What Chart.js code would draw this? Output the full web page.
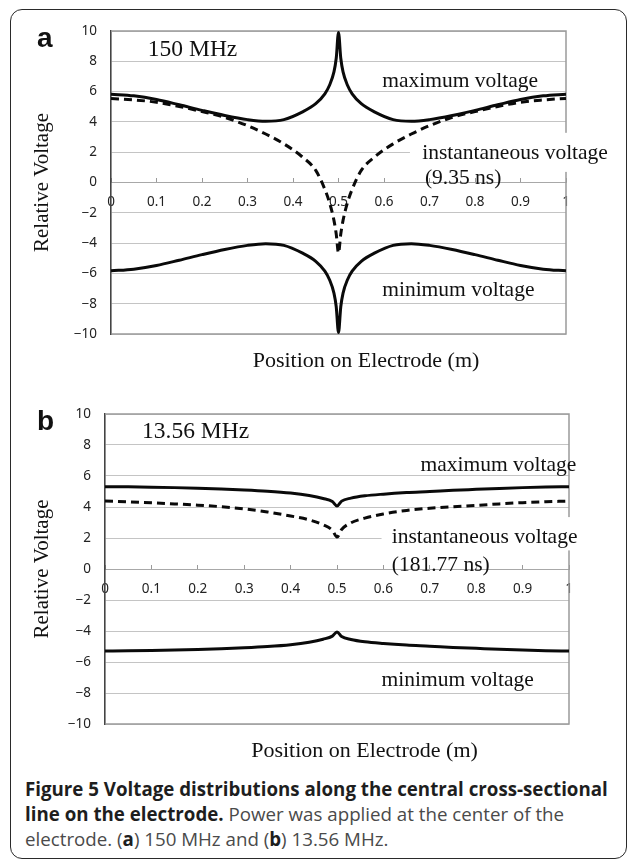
<!DOCTYPE html>
<html><head><meta charset="utf-8">
<script src="https://cdn.jsdelivr.net/npm/chart.js@4.4.1/dist/chart.umd.min.js"></script>
<style>
html,body{margin:0;padding:0;background:#fff;}
body{width:627px;height:861px;position:relative;overflow:hidden;}
#frame{position:absolute;left:10px;top:9px;width:617px;height:850px;border:1.6px solid #2a2a2a;border-radius:12px;box-sizing:border-box;}
canvas{position:absolute;left:0;}
#ca{top:0px;}
#cb{top:385px;}
#cap{position:absolute;left:25px;top:776px;font-family:'Open Sans',sans-serif;font-size:17px;line-height:25px;color:#4a4a4a;white-space:nowrap;}
#cap b{color:#1e1e1e;font-weight:700;}
</style></head><body>
<div id="frame"></div>
<canvas id="ca" width="627" height="385"></canvas>
<canvas id="cb" width="627" height="385"></canvas>
<div id="cap"><span id="l1"><b>Figure 5 Voltage distributions along the central cross-sectional</b></span><br><b>line on the electrode.</b> Power was applied at the center of the<br>electrode. (<b>a</b>) 150 MHz and (<b>b</b>) 13.56 MHz.</div>
<script>
// ---- data: 150 MHz ----
const positions150 = [0,0.05,0.1,0.15,0.2,0.25,0.3,0.34,0.38,0.42,0.45,0.47,0.48,0.49,0.495,0.5,0.505,0.51,0.52,0.53,0.55,0.58,0.62,0.66,0.7,0.75,0.8,0.85,0.9,0.95,1];
const maxVoltage150 = [5.83,5.72,5.48,5.13,4.76,4.42,4.15,4.04,4.15,4.65,5.2,5.85,6.4,7.3,8.2,9.9,8.2,7.3,6.4,5.85,5.2,4.65,4.15,4.04,4.15,4.42,4.76,5.13,5.48,5.72,5.83];
const instVoltage150 = [5.55,5.45,5.3,5.02,4.68,4.3,3.75,3.2,2.55,1.7,0.8,-0.45,-1.3,-2.5,-3.4,-4.65,-3.4,-2.5,-1.3,-0.45,0.8,1.7,2.55,3.2,3.75,4.3,4.68,5.02,5.3,5.45,5.55];
const minVoltage150 = [-5.83,-5.72,-5.48,-5.13,-4.76,-4.42,-4.15,-4.04,-4.15,-4.65,-5.2,-5.85,-6.4,-7.3,-8.2,-9.9,-8.2,-7.3,-6.4,-5.85,-5.2,-4.65,-4.15,-4.04,-4.15,-4.42,-4.76,-5.13,-5.48,-5.72,-5.83];
// ---- data: 13.56 MHz ----
const positions1356 = [0,0.05,0.1,0.15,0.2,0.25,0.3,0.35,0.4,0.44,0.47,0.49,0.5,0.51,0.53,0.56,0.6,0.65,0.7,0.75,0.8,0.85,0.9,0.95,1];
const maxVoltage1356 = [5.31,5.3,5.28,5.25,5.21,5.16,5.1,5.02,4.9,4.74,4.55,4.35,4.06,4.38,4.57,4.72,4.83,4.93,5.0,5.08,5.14,5.2,5.25,5.29,5.31];
const instVoltage1356 = [4.38,4.33,4.27,4.2,4.12,4.02,3.88,3.68,3.42,3.17,2.85,2.5,2.06,2.55,2.98,3.28,3.55,3.78,3.92,4.02,4.1,4.2,4.28,4.34,4.38];
const minVoltage1356 = [-5.29,-5.28,-5.26,-5.23,-5.19,-5.14,-5.08,-5.0,-4.88,-4.72,-4.53,-4.33,-4.06,-4.36,-4.55,-4.7,-4.81,-4.91,-4.98,-5.06,-5.12,-5.18,-5.23,-5.27,-5.29];
// ---- ticks ----
const xTickValues = [0,0.1,0.2,0.3,0.4,0.5,0.6,0.7,0.8,0.9,1];
const xTickLabels = ['0','0.1','0.2','0.3','0.4','0.5','0.6','0.7','0.8','0.9','1'];
const yTickValues = [-10,-8,-6,-4,-2,0,2,4,6,8,10];
const yTickLabels = ['\u221210','\u22128','\u22126','\u22124','\u22122','0','2','4','6','8','10'];
// ---- texts ----
const axisTitleY = 'Relative Voltage';
const axisTitleX = 'Position on Electrode (m)';

const SERIF = "'Liberation Serif','Times New Roman',serif";
const SANS = "'Noto Sans','Liberation Sans',sans-serif";

function pts(xs, ys){ return xs.map((p,i)=>({x:p,y:ys[i]})); }
function lookup(vals, labels, v){
  for (let i=0;i<vals.length;i++){ if (Math.abs(vals[i]-v)<1e-6) return labels[i]; }
  return '';
}

function annotPlugin(cfg){
  return {
    id:'annot'+cfg.panel,
    beforeDatasetsDraw(chart){
      const {ctx, chartArea:a, scales:{x,y}} = chart;
      ctx.save();
      ctx.strokeStyle='#9a9a9a'; ctx.lineWidth=1.5;
      ctx.beginPath();
      ctx.moveTo(a.left, a.top); ctx.lineTo(a.right, a.top);
      ctx.lineTo(a.right, a.bottom); ctx.lineTo(a.left+1, a.bottom);
      ctx.stroke();
      const t = cfg.texts[cfg.boxFor];
      ctx.font = t.size+'px '+SERIF;
      const tw = ctx.measureText(t.text).width;
      const bx = x.getPixelForValue(cfg.box.x0);
      const tx = x.getPixelForValue(t.x);
      const by0 = y.getPixelForValue(cfg.box.y0), by1 = y.getPixelForValue(cfg.box.y1);
      ctx.fillStyle='#fff';
      ctx.fillRect(bx, by0, tx+tw+4-bx, by1-by0);
      ctx.restore();
    },
    afterDraw(chart){
      const {ctx, chartArea:a, scales:{x,y}} = chart;
      ctx.save();
      ctx.fillStyle='#111';
      ctx.textBaseline='alphabetic';
      ctx.textAlign='left';
      for (const t of cfg.texts){
        ctx.font = t.size+'px '+SERIF;
        ctx.fillText(t.text, x.getPixelForValue(t.x), y.getPixelForValue(t.y));
      }
      ctx.textAlign='center';
      ctx.font = '22px '+SERIF;
      ctx.fillText(axisTitleX, (a.left+a.right)/2+27.5, a.bottom+33);
      ctx.textAlign='left';
      ctx.font = 'bold 28px '+"'Liberation Sans',Arial,sans-serif";
      ctx.fillText(cfg.panel, 37, cfg.panelBaseline);
      ctx.restore();
    }
  };
}

function makeChart(id, xs, maxV, instV, minV, cfg){
  new Chart(document.getElementById(id), {
    type:'line',
    data:{datasets:[
      {data:pts(xs,maxV), borderColor:'#0a0a0a', borderWidth:3},
      {data:pts(xs,minV), borderColor:'#0a0a0a', borderWidth:3},
      {data:pts(xs,instV), borderColor:'#0a0a0a', borderWidth:3, borderDash:[8,5]}
    ]},
    options:{
      responsive:false, animation:false, devicePixelRatio:1,
      layout:{padding:{left:30, top:cfg.top, right:cfg.right, bottom:cfg.bottom}},
      plugins:{legend:{display:false}, tooltip:{enabled:false}},
      elements:{point:{radius:0}, line:{cubicInterpolationMode:'monotone', borderCapStyle:'butt'}},
      scales:{
        x:{type:'linear', min:0, max:1, position:{y:0},
           ticks:{stepSize:0.1, autoSkip:false, maxRotation:0, padding:17, color:'#222',
                  font:{family:SANS, size:13.5},
                  callback:(v)=>lookup(xTickValues, xTickLabels, v)},
           grid:{drawOnChartArea:false, drawTicks:true, tickLength:-5, color:'#9a9a9a'},
           border:{display:true, color:'#a8a8a8', width:1}},
        y:{type:'linear', min:-10, max:10,
           ticks:{stepSize:2, padding:14, color:'#222', font:{family:SANS, size:13.5},
                  callback:(v)=>lookup(yTickValues, yTickLabels, v)},
           grid:{color:'#c4c4c4', lineWidth:1, drawTicks:false},
           border:{color:'#444', width:1.6},
           title:{display:true, text:axisTitleY, color:'#111', font:{family:SERIF, size:21}, padding:{top:0,bottom:0}},
           afterFit(s){ s.width = cfg.yWidth; }}
      }
    },
    plugins:[annotPlugin(cfg)]
  });
}

makeChart('ca', positions150, maxVoltage150, instVoltage150, minVoltage150, {
  panel:'a', panelBaseline:47, top:31, right:61, bottom:51, yWidth:81,
  boxFor:2, box:{x0:0.657, y0:3.28, y1:0.7},
  texts:[
    {text:'150 MHz', x:0.081, y:8.32, size:23.5},
    {text:'maximum voltage', x:0.596, y:6.3, size:21.5},
    {text:'instantaneous voltage', x:0.684, y:1.545, size:21.5},
    {text:'(9.35 ns)', x:0.69, y:-0.1, size:21.5},
    {text:'minimum voltage', x:0.596, y:-7.52, size:21.5}
  ]
});
makeChart('cb', positions1356, maxVoltage1356, instVoltage1356, minVoltage1356, {
  panel:'b', panelBaseline:45, top:29, right:58, bottom:46, yWidth:75,
  boxFor:2, box:{x0:0.596, y0:3.35, y1:1.2},
  texts:[
    {text:'13.56 MHz', x:0.08, y:8.43, size:23.5},
    {text:'maximum voltage', x:0.68, y:6.34, size:21.5},
    {text:'instantaneous voltage', x:0.618, y:1.66, size:21.5},
    {text:'(181.77 ns)', x:0.618, y:-0.1, size:21.5},
    {text:'minimum voltage', x:0.596, y:-7.53, size:21.5}
  ]
});

(function(){
  const cap = document.getElementById('cap');
  const w = document.getElementById('l1').getBoundingClientRect().width;
  if (w>0){ cap.style.fontSize = (17*583/w).toFixed(2)+'px'; }
})();
</script>
</body></html>
